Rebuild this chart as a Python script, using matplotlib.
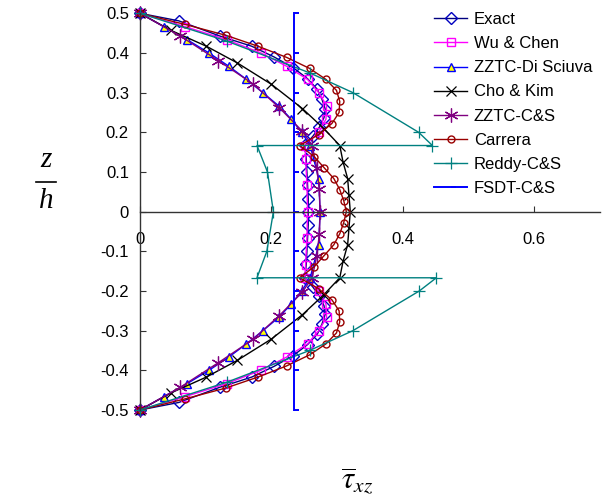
import matplotlib
matplotlib.use('Agg')
import matplotlib.pyplot as plt
from matplotlib.lines import Line2D

plt.rcParams['font.family'] = ['Liberation Sans', 'DejaVu Sans']
plt.rcParams['mathtext.fontset'] = 'stix'

# through-thickness positions z/h and normalised shear stress values
exact_z = [0.5, 0.481, 0.443, 0.417, 0.39, 0.363, 0.335, 0.308, 0.283, 0.258, 0.237, 0.213, 0.19, 0.167,
           0.133, 0.1, 0.067, 0.033, 0.0, -0.033, -0.067, -0.1, -0.133,
           -0.167, -0.19, -0.213, -0.237, -0.258, -0.283, -0.308, -0.335, -0.363, -0.39, -0.417, -0.443, -0.481, -0.5]
exact_v = [0.0, 0.059, 0.121, 0.170, 0.204, 0.233, 0.255, 0.270, 0.277, 0.282, 0.280, 0.273, 0.263, 0.251,
           0.253, 0.254, 0.255, 0.256, 0.256, 0.256, 0.255, 0.254, 0.253,
           0.251, 0.263, 0.273, 0.280, 0.282, 0.277, 0.270, 0.255, 0.233, 0.204, 0.170, 0.121, 0.059, 0.0]

wu_z = [0.5, 0.4667, 0.4333, 0.4, 0.3667, 0.3333, 0.3, 0.2667, 0.2333, 0.2, 0.1667,
        0.1333, 0.0667, 0.0, -0.0667, -0.1333,
        -0.1667, -0.2, -0.2333, -0.2667, -0.3, -0.3333, -0.3667, -0.4, -0.4333, -0.4667, -0.5]
wu_v = [0.0, 0.068, 0.132, 0.184, 0.223, 0.255, 0.272, 0.284, 0.283, 0.272, 0.251,
        0.252, 0.254, 0.255, 0.254, 0.252,
        0.251, 0.272, 0.283, 0.284, 0.272, 0.255, 0.223, 0.184, 0.132, 0.068, 0.0]

dis_z = [0.5, 0.4667, 0.4333, 0.4, 0.3667, 0.3333, 0.3, 0.2667, 0.2333, 0.2, 0.1667,
         0.0833, 0.0, -0.0833,
         -0.1667, -0.2, -0.2333, -0.2667, -0.3, -0.3333, -0.3667, -0.4, -0.4333, -0.4667, -0.5]
dis_v = [0.0, 0.036, 0.072, 0.105, 0.135, 0.162, 0.187, 0.211, 0.230, 0.246, 0.259,
         0.272, 0.274, 0.272,
         0.259, 0.246, 0.230, 0.211, 0.187, 0.162, 0.135, 0.105, 0.072, 0.036, 0.0]

cho_z = [0.5, 0.457, 0.417, 0.375, 0.321, 0.26, 0.209, 0.1667, 0.125, 0.0833, 0.0417, 0.0,
         -0.0417, -0.0833, -0.125, -0.1667, -0.209, -0.26, -0.321, -0.375, -0.417, -0.457, -0.5]
cho_v = [0.0, 0.047, 0.101, 0.148, 0.200, 0.247, 0.280, 0.304, 0.309, 0.316, 0.318, 0.320,
         0.318, 0.316, 0.309, 0.304, 0.280, 0.247, 0.200, 0.148, 0.101, 0.047, 0.0]

cs_z = [0.5, 0.443, 0.381, 0.322, 0.262, 0.203, 0.1667, 0.111, 0.056, 0.0,
        -0.056, -0.111, -0.1667, -0.203, -0.262, -0.322, -0.381, -0.443, -0.5]
cs_v = [0.0, 0.061, 0.119, 0.172, 0.212, 0.247, 0.262, 0.269, 0.273, 0.274,
        0.273, 0.269, 0.262, 0.247, 0.212, 0.172, 0.119, 0.061, 0.0]

car_z = [0.5, 0.4722, 0.4444, 0.4167, 0.3889, 0.3611, 0.3333, 0.3056, 0.2778, 0.25, 0.2222, 0.1944, 0.1667,
         0.1389, 0.1111, 0.0833, 0.0556, 0.0278, 0.0, -0.0278, -0.0556, -0.0833, -0.1111, -0.1389,
         -0.1667, -0.1944, -0.2222, -0.25, -0.2778, -0.3056, -0.3333, -0.3611, -0.3889, -0.4167, -0.4444, -0.4722, -0.5]
car_v = [0.0, 0.068, 0.131, 0.180, 0.223, 0.258, 0.283, 0.299, 0.304, 0.303, 0.292, 0.272, 0.243,
         0.265, 0.280, 0.295, 0.304, 0.310, 0.314, 0.310, 0.304, 0.295, 0.280, 0.265,
         0.243, 0.272, 0.292, 0.303, 0.304, 0.299, 0.283, 0.258, 0.223, 0.180, 0.131, 0.068, 0.0]

reddy_z = [0.5, 0.43, 0.35, 0.3, 0.2, 0.1667, 0.1667, 0.1, 0.0, -0.1, -0.1667, -0.1667, -0.2, -0.3, -0.35, -0.43, -0.5]
reddy_v = [0.0, 0.132, 0.258, 0.324, 0.424, 0.445, 0.178, 0.194, 0.203, 0.193, 0.178, 0.451, 0.425, 0.324, 0.258, 0.132, 0.0]

fsdt_z = [0.5, 0.4, 0.3, 0.2, 0.1, 0.0, -0.1, -0.2, -0.3, -0.4, -0.5]
fsdt_v = [0.235] * 11

fig = plt.figure(figsize=(6.13, 5.03), dpi=100)
ax = fig.add_axes([140 / 613, 1 - 410 / 503, 460 / 613, 396.7 / 503])

lw = 1.0
ax.plot(exact_v, exact_z, color='#000080', lw=lw, marker='D', ms=6, mfc='none', mec='#0000c0', label='Exact', clip_on=False)
ax.plot(wu_v, wu_z, color='#ff00ff', lw=lw, marker='s', ms=5.5, mfc='none', mec='#ff00ff', label='Wu & Chen', clip_on=False)
ax.plot(dis_v, dis_z, color='#0000ff', lw=lw, marker='^', ms=6, mfc='#ffff00', mec='#0000ff', label='ZZTC-Di Sciuva', clip_on=False)
ax.plot(cho_v, cho_z, color='black', lw=lw, marker='x', ms=7.5, mew=0.9, label='Cho & Kim', clip_on=False)
ax.plot(cs_v, cs_z, color='#800080', lw=lw, marker=(6, 2, 0), ms=10, mew=0.9, mec='#800080', label='ZZTC-C&S', clip_on=False)
ax.plot(car_v, car_z, color='#990000', lw=lw, marker='o', ms=5, mfc='none', mec='#990000', label='Carrera', clip_on=False)
ax.plot(reddy_v, reddy_z, color='#008080', lw=lw, marker='+', ms=8, mew=0.9, label='Reddy-C&S', clip_on=False)
ax.plot(fsdt_v, fsdt_z, color='#0000ff', lw=1.4, marker=1, ms=3.5, mew=1.4, label='FSDT-C&S', clip_on=False)

ax.set_xlim(0, 0.7)
ax.set_ylim(-0.5, 0.5)
ax.spines['left'].set_position(('data', 0))
ax.spines['bottom'].set_position(('data', 0))
ax.spines['top'].set_visible(False)
ax.spines['right'].set_visible(False)
for s in ('left', 'bottom'):
    ax.spines[s].set_color('#333333')
    ax.spines[s].set_linewidth(1.0)

yt = [0.5, 0.4, 0.3, 0.2, 0.1, 0.0, -0.1, -0.2, -0.3, -0.4, -0.5]
ax.set_yticks(yt)
ax.set_yticklabels(['0' if v == 0 else f'{v:.1f}' for v in yt])
ax.set_xticks([0, 0.2, 0.4, 0.6])
ax.set_xticklabels(['0', '0.2', '0.4', '0.6'])
ax.tick_params(axis='y', direction='in', length=4, pad=8, labelsize=12, color='#333333')
ax.tick_params(axis='x', direction='in', length=4, pad=15, labelsize=12, color='#333333')
ax.patch.set_visible(False)

ax.legend(loc='upper left', bbox_to_anchor=(434 / 613, 1 - 12 / 503), bbox_transform=fig.transFigure,
          frameon=False, fontsize=12, handlelength=2.0, handletextpad=0.4, labelspacing=0.55,
          borderpad=0, borderaxespad=0, numpoints=1)

# z/h label
fig.text(46 / 613, 1 - 160 / 503, 'z', family='Liberation Serif', style='italic', fontsize=21, ha='center', va='center')
fig.text(46 / 613, 1 - 201 / 503, 'h', family='Liberation Serif', style='italic', fontsize=21, ha='center', va='center')
fig.add_artist(Line2D([36 / 613, 56 / 613], [1 - 182 / 503, 1 - 182 / 503], color='black', lw=1.2))

fig.text(357 / 613, 1 - 481 / 503, r'$\overline{\tau}_{xz}$', fontsize=22, ha='center', va='center')

fig.savefig('out.png', dpi=100)
